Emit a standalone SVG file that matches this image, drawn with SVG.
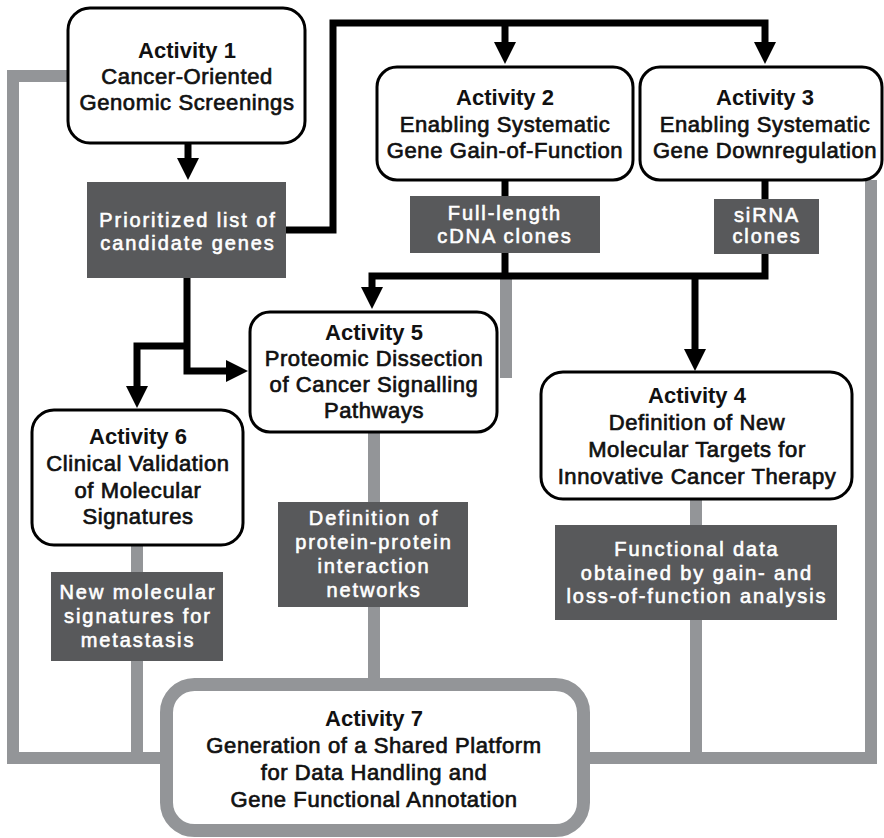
<svg xmlns="http://www.w3.org/2000/svg" width="884" height="838" viewBox="0 0 884 838">
  <style>
    .box { fill: #ffffff; stroke: #000000; stroke-width: 3; }
    .out { fill: #58595b; }
    .hub { fill: #ffffff; stroke: #939598; stroke-width: 13; }
    .flow { fill: none; stroke: #000000; stroke-width: 7; stroke-linejoin: miter; }
    .feed { fill: none; stroke: #939598; stroke-width: 12; stroke-linejoin: miter; }
    text { font-family: "Liberation Sans", Arial, sans-serif; font-size: 22px; text-anchor: middle; }
    .t { font-weight: bold; fill: #111111; }
    .b { fill: #111111; stroke: #111111; stroke-width: 0.7; letter-spacing: 0.6px; }
    .w { font-size: 20px; fill: #ffffff; stroke: #ffffff; stroke-width: 0.6; letter-spacing: 1.9px; }
  </style>
  <defs>
    <marker id="arrow" markerUnits="userSpaceOnUse" markerWidth="22" markerHeight="22" refX="7" refY="11" orient="auto">
      <path d="M0,0 L22,11 L0,22 Z" fill="#000000"/>
    </marker>
  </defs>

  <rect width="884" height="838" fill="#ffffff"/>

  <!-- connectors -->
  <g id="connectors">
    <!-- grey data feeds into the shared platform -->
    <path class="feed" d="M68,76 H13 V758 H166"/>
    <path class="feed" d="M137,545 V758"/>
    <path class="feed" d="M374,432 V684"/>
    <path class="feed" d="M506,276 V378"/>
    <path class="feed" d="M696,499 V758"/>
    <path class="feed" d="M871,180 V758 H583"/>

    <!-- black workflow arrows -->
    <path class="flow" d="M188,143 V165" marker-end="url(#arrow)"/>
    <path class="flow" d="M286,230 H333 V23 H765 V49" marker-end="url(#arrow)"/>
    <path class="flow" d="M505,23 V49" marker-end="url(#arrow)"/>
    <path class="flow" d="M505,180 V276"/>
    <path class="flow" d="M765,180 V276 H372 V294" marker-end="url(#arrow)"/>
    <path class="flow" d="M695,276 V356" marker-end="url(#arrow)"/>
    <path class="flow" d="M187,278 V371 H233" marker-end="url(#arrow)"/>
    <path class="flow" d="M187,346 H137 V393" marker-end="url(#arrow)"/>
  </g>

  <!-- Activity 1 -->
  <g id="activity1">
    <rect class="box" x="68" y="8" width="237" height="135" rx="22"/>
    <text class="t" x="187" y="58">Activity 1</text>
    <text class="b" x="187" y="84">Cancer-Oriented</text>
    <text class="b" x="187" y="110">Genomic Screenings</text>
  </g>

  <g id="candidate-genes">
    <rect class="out" x="87" y="182" width="199" height="96"/>
    <text class="w" x="188" y="227">Prioritized list of</text>
    <text class="w" x="188" y="250">candidate genes</text>
  </g>

  <!-- Activity 2 -->
  <g id="activity2">
    <rect class="box" x="377" y="67" width="256" height="113" rx="20"/>
    <text class="t" x="505" y="105">Activity 2</text>
    <text class="b" x="505" y="132">Enabling Systematic</text>
    <text class="b" x="505" y="158">Gene Gain-of-Function</text>
  </g>

  <g id="cdna-clones">
    <rect class="out" x="410" y="196" width="190" height="57"/>
    <text class="w" x="505" y="220">Full-length</text>
    <text class="w" x="505" y="243">cDNA clones</text>
  </g>

  <!-- Activity 3 -->
  <g id="activity3">
    <rect class="box" x="640" y="67" width="242" height="113" rx="20"/>
    <text class="t" x="765" y="105">Activity 3</text>
    <text class="b" x="765" y="132">Enabling Systematic</text>
    <text class="b" x="765" y="158">Gene Downregulation</text>
  </g>

  <g id="sirna-clones">
    <rect class="out" x="714" y="199" width="105" height="55"/>
    <text class="w" x="767" y="222">siRNA</text>
    <text class="w" x="767" y="243">clones</text>
  </g>

  <!-- Activity 5 -->
  <g id="activity5">
    <rect class="box" x="250" y="312" width="247" height="120" rx="20"/>
    <text class="t" x="374" y="340">Activity 5</text>
    <text class="b" x="374" y="366">Proteomic Dissection</text>
    <text class="b" x="374" y="392">of Cancer Signalling</text>
    <text class="b" x="374" y="418">Pathways</text>
  </g>

  <g id="interaction-networks">
    <rect class="out" x="278" y="502" width="190" height="105"/>
    <text class="w" x="374" y="525">Definition of</text>
    <text class="w" x="374" y="549">protein-protein</text>
    <text class="w" x="374" y="573">interaction</text>
    <text class="w" x="374" y="597">networks</text>
  </g>

  <!-- Activity 6 -->
  <g id="activity6">
    <rect class="box" x="32" y="410" width="211" height="135" rx="22"/>
    <text class="t" x="138" y="444">Activity 6</text>
    <text class="b" x="138" y="471">Clinical Validation</text>
    <text class="b" x="138" y="498">of Molecular</text>
    <text class="b" x="138" y="524">Signatures</text>
  </g>

  <g id="molecular-signatures">
    <rect class="out" x="51" y="572" width="172" height="89"/>
    <text class="w" x="138" y="599">New molecular</text>
    <text class="w" x="138" y="623">signatures for</text>
    <text class="w" x="138" y="647">metastasis</text>
  </g>

  <!-- Activity 4 -->
  <g id="activity4">
    <rect class="box" x="541" y="372" width="311" height="127" rx="22"/>
    <text class="t" x="697" y="403">Activity 4</text>
    <text class="b" x="697" y="430">Definition of New</text>
    <text class="b" x="697" y="457">Molecular Targets for</text>
    <text class="b" x="697" y="484">Innovative Cancer Therapy</text>
  </g>

  <g id="functional-data">
    <rect class="out" x="555" y="525" width="282" height="95"/>
    <text class="w" x="697" y="556">Functional data</text>
    <text class="w" x="697" y="580">obtained by gain- and</text>
    <text class="w" x="697" y="603">loss-of-function analysis</text>
  </g>

  <!-- Activity 7 -->
  <g id="activity7">
    <rect class="hub" x="166.5" y="684.5" width="417" height="146" rx="28"/>
    <text class="t" x="374" y="726">Activity 7</text>
    <text class="b" x="374" y="753">Generation of a Shared Platform</text>
    <text class="b" x="374" y="780">for Data Handling and</text>
    <text class="b" x="374" y="807">Gene Functional Annotation</text>
  </g>
</svg>
